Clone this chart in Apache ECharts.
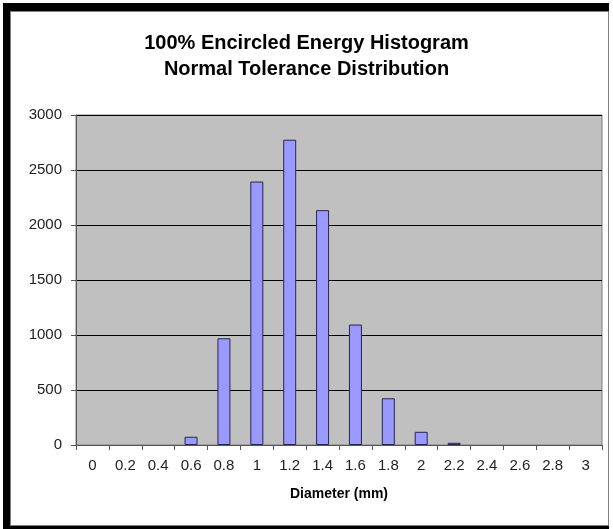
<!DOCTYPE html>
<html>
<head>
<meta charset="utf-8">
<script src="https://cdn.jsdelivr.net/npm/echarts@6/dist/echarts.min.js"></script>
<style>
  html, body { margin: 0; padding: 0; background: #fff; }
  #frame {
    position: absolute; left: 3px; top: 3px; width: 599px; height: 515px;
    border-left: 7px solid #000; border-top: 8px solid #000; border-bottom: 4px solid #000;
    border-right: none;
  }
  #inner { position: absolute; left: 0; top: 0; right: 0; bottom: 0; border: 1px solid #808080; }
  #chart { position: absolute; left: 0; top: 0; width: 613px; height: 529px; }
</style>
</head>
<body>
<div id="frame"><div id="inner"></div></div>
<div id="chart"></div>
<script>
const categories = ['0', '0.2', '0.4', '0.6', '0.8', '1', '1.2', '1.4', '1.6', '1.8', '2', '2.2', '2.4', '2.6', '2.8', '3'];
const counts = [0, 0, 0, 75, 970, 2395, 2775, 2135, 1095, 425, 120, 20, 0, 0, 0, 0];
const titleLines = ['100% Encircled Energy Histogram', 'Normal Tolerance Distribution'];
const xTitle = 'Diameter (mm)';

const FONT = 'Liberation Sans, Arial, sans-serif';
const chart = echarts.init(document.getElementById('chart'), null, { renderer: 'canvas' });
chart.setOption({
  backgroundColor: 'transparent',
  animation: false,
  title: {
    text: titleLines.join('\n'),
    left: 'center',
    top: 25,
    textStyle: { fontFamily: FONT, fontSize: 20, fontWeight: 'bold', color: '#000', lineHeight: 26 }
  },
  grid: {
    left: 76, right: 11, top: 115, bottom: 84,
    show: true, backgroundColor: '#c0c0c0', borderColor: '#808080', borderWidth: 1
  },
  xAxis: {
    type: 'category',
    data: categories,
    boundaryGap: true,
    name: xTitle,
    nameLocation: 'middle',
    nameGap: 42,
    nameTextStyle: { fontFamily: FONT, fontSize: 14, fontWeight: 'bold', color: '#000' },
    axisLine: { lineStyle: { color: '#555', width: 1 } },
    axisTick: { show: true, alignWithLabel: false, length: 5, lineStyle: { color: '#555' } },
    axisLabel: { interval: 0, margin: 13, fontFamily: FONT, fontSize: 15, color: '#222' },
    splitLine: { show: false }
  },
  yAxis: {
    type: 'value',
    min: 0, max: 3000, interval: 500,
    axisLine: { show: true, lineStyle: { color: '#555', width: 1 } },
    axisTick: { show: true, length: 5, lineStyle: { color: '#555' } },
    axisLabel: { margin: 14, fontFamily: FONT, fontSize: 15, color: '#222', formatter: v => String(v) },
    splitLine: { show: true, lineStyle: { color: '#000', width: 1 } }
  },
  series: [{
    type: 'bar',
    data: counts.map(v => ({ value: v, itemStyle: { borderWidth: v > 0 ? 1 : 0 } })),
    barWidth: 13,
    itemStyle: { color: '#9999ff', borderColor: '#262650', borderWidth: 1 }
  }]
});
</script>
</body>
</html>
